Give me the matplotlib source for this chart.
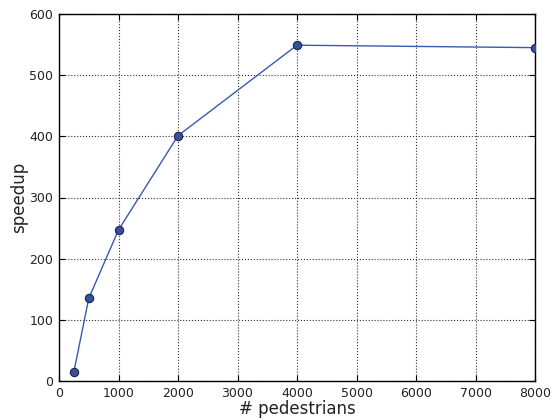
import matplotlib
matplotlib.use("Agg")
import matplotlib.pyplot as plt

plt.rcParams["font.family"] = ["DejaVu Sans"]

pedestrians = [250, 500, 1000, 2000, 4000, 8000]
speedup = [15, 135, 247, 401, 549, 545]

x_ticks = [0, 1000, 2000, 3000, 4000, 5000, 6000, 7000, 8000]
y_ticks = [0, 100, 200, 300, 400, 500, 600]

fig = plt.figure(figsize=(5.52, 4.2), dpi=100)
ax = fig.add_axes([59 / 552, 1 - 381 / 420, (535 - 59) / 552, (381 - 14) / 420])

ax.plot(pedestrians, speedup, color="#3a59b0", linewidth=1.0,
        marker="o", markersize=6, markerfacecolor="#34509e",
        markeredgecolor="#1c2450", markeredgewidth=0.8, zorder=3)

ax.set_xlim(0, 8000)
ax.set_ylim(0, 600)
ax.set_xticks(x_ticks)
ax.set_yticks(y_ticks)
ax.grid(True, linestyle=":", color="#333333", linewidth=0.8)
ax.tick_params(direction="in", top=True, right=True, labelsize=9, length=4, pad=4,
               labelcolor="#222222")
for s in ax.spines.values():
    s.set_linewidth(1.0)

ax.set_xlabel("# pedestrians", fontsize=12, labelpad=0, color="#222222")
ax.set_ylabel("speedup", fontsize=12, labelpad=1, color="#222222")

fig.savefig("out.png", dpi=100)
